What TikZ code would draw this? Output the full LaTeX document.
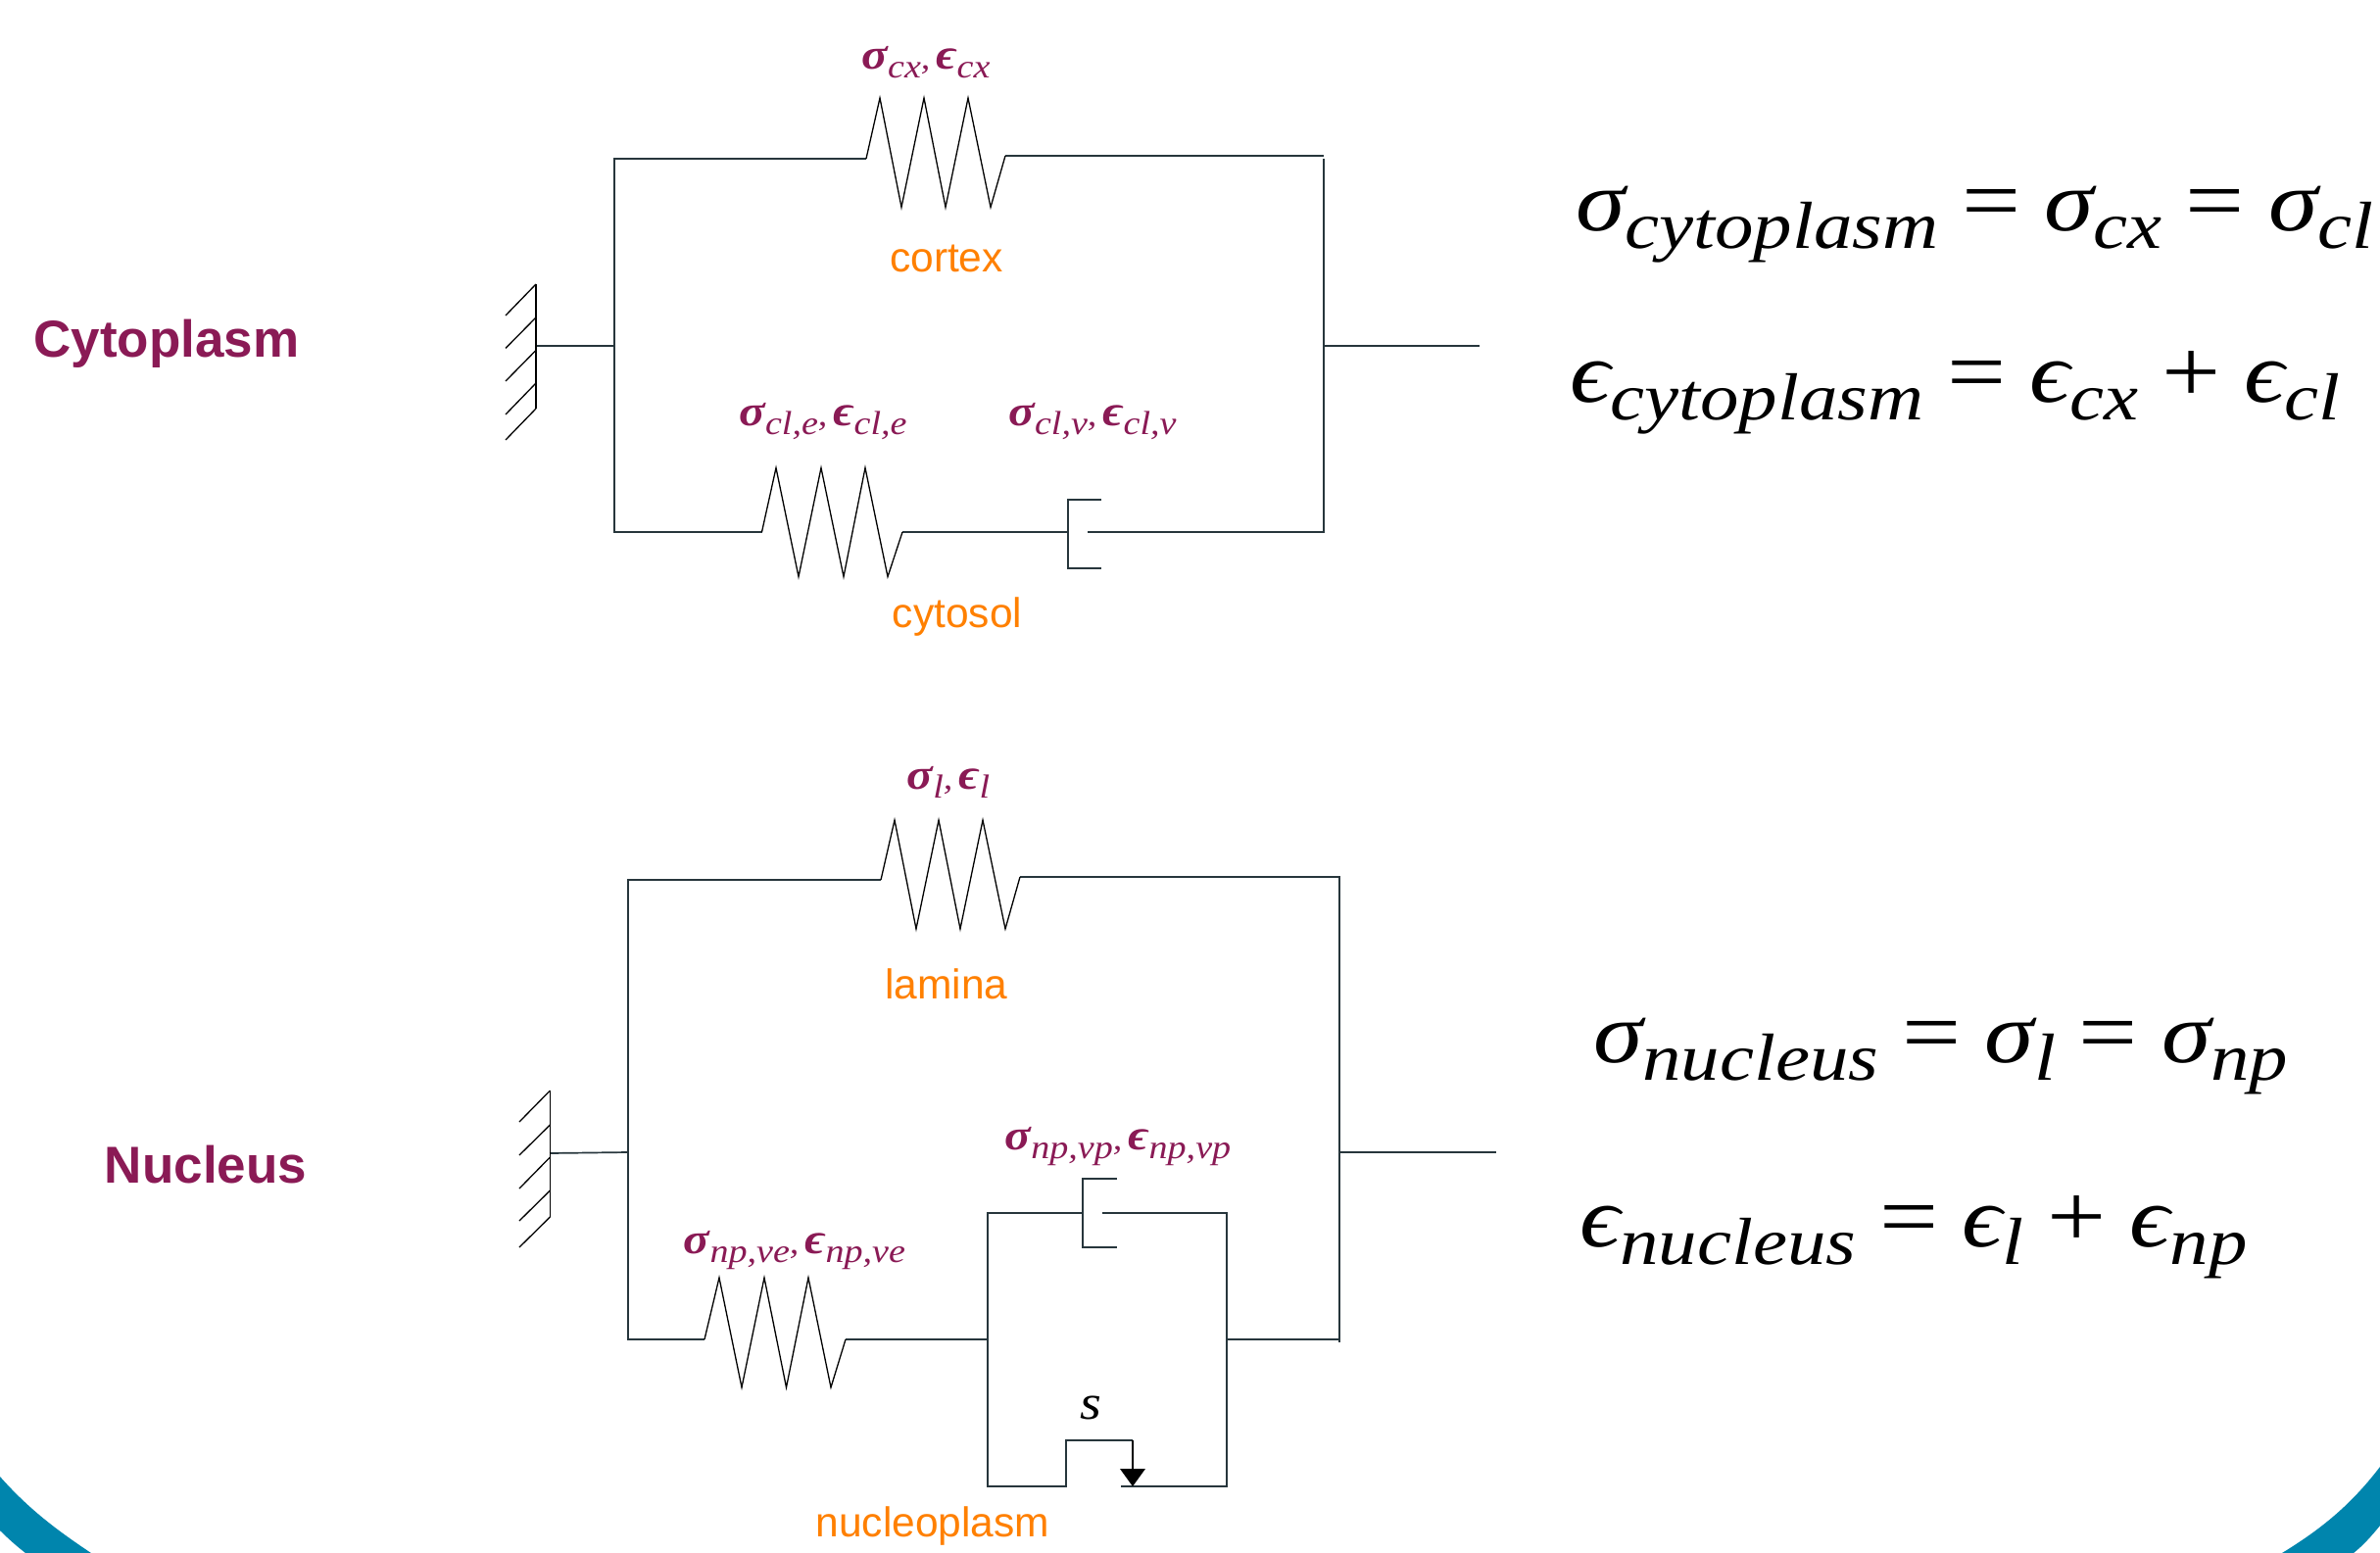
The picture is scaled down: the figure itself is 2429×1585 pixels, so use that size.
\documentclass[tikz,border=0pt]{standalone}
\usepackage{fontspec}
\setmainfont{Liberation Sans}
\newfontfamily\eqf[FakeStretch=1.12]{Liberation Serif}
\newfontfamily\eqg[FakeStretch=1.16]{Liberation Serif}
\newcommand\bigtxt[1]{{\fontsize{88}{96}\selectfont\itshape #1}}
\newcommand\bigsub[1]{\raisebox{-18pt}{\fontsize{68}{80}\selectfont\itshape #1}}
\newcommand\bigop[1]{\hspace{24pt}{\fontsize{92}{96}\selectfont #1}\hspace{24pt}}
\newcommand\labtxt[2]{{\fontsize{44}{50}\selectfont\bfseries\itshape #1}\raisebox{-9pt}{\fontsize{34}{40}\selectfont\itshape #2}}
\newcommand\labsep{{\fontsize{34}{40}\selectfont\itshape ,\hspace{6pt}}}
\definecolor{linec}{HTML}{27363C}
\definecolor{purp}{HTML}{8A1A55}
\definecolor{orng}{HTML}{FF8000}
\definecolor{teal}{HTML}{0085AD}
\tikzset{
  wire/.style={draw=linec,line width=1.7pt},
  thin wire/.style={draw=black,line width=1.3pt,line join=miter},
  orange label/.style={text=orng,font=\fontsize{42.5}{48}\selectfont,inner sep=0pt},
  title label/.style={text=purp,font=\fontsize{53}{60}\selectfont\bfseries,inner sep=0pt},
  purple label/.style={text=purp,font=\eqf,inner sep=0pt},
  equation/.style={text=black,font=\eqg,inner sep=0pt,anchor=base west},
  arc fill/.style={fill=teal,draw=none}
}
\begin{document}
\begin{tikzpicture}[x=1pt,y=-1pt]
\useasboundingbox (0,0) rectangle (2429,1585);
\fill[white] (0,0) rectangle (2429,1585);
% corner arcs
\fill[arc fill] (0,1507) .. controls (30,1541) and (60,1563) .. (93,1585) -- (26,1585) .. controls (17,1578) and (8,1570) .. (0,1562) -- cycle;
\fill[arc fill] (2429,1497) .. controls (2400,1535) and (2370,1560) .. (2329,1585) -- (2402,1585) .. controls (2412,1577) and (2420,1568) .. (2429,1557) -- cycle;

% ---------- Cytoplasm ----------
\coordinate (cTL) at (627,162);
\coordinate (cBL) at (627,543);
\coordinate (cTR) at (1351,159);
\coordinate (cTRv) at (1351,162);
\coordinate (cBR) at (1351,543);
\coordinate (cS1a) at (884,162);
\coordinate (cS1b) at (1026,159);
\coordinate (cS2a) at (777.5,543);
\coordinate (cS2b) at (921,543);
\coordinate (cDa) at (1090,543);
\coordinate (cDb) at (1109.5,543);
\coordinate (cW) at (547,353);
\coordinate (cWL) at (627,353);
\coordinate (cWR) at (1351,353);
\coordinate (cEnd) at (1510,353);
\draw[wire] (cS1a) -- (cTL) -- (cBL) -- (cS2a);
\draw[wire] (cS1b) -- (cTR);
\draw[wire] (cTRv) -- (cBR) -- (cDb);
\draw[wire] (cS2b) -- (cDa);
\draw[wire] (cW) -- (cWL);
\draw[wire] (cWR) -- (cEnd);
\draw[thin wire] (cS1a) -- (898,100) -- (920,211.5) -- (943,100) -- (965,211.5) -- (988,100) -- (1011,211.5) -- (cS1b);
\draw[thin wire] (cS2a) -- (792,477.5) -- (815,588.6) -- (838,477.5) -- (861,588.6) -- (883,477.5) -- (906,588.6) -- (cS2b);
\draw[wire] (1124,510) -- (1090,510) -- (1090,580) -- (1124,580);
\draw[thin wire] (547,290) -- (547,417);
\draw[thin wire] (547,290) -- (516,322) (547,324) -- (516,355.4) (547,357.5) -- (516,389) (547,391) -- (516,423) (547,417) -- (516,449);

% ---------- Nucleus ----------
\coordinate (nTL) at (641,898);
\coordinate (nBL) at (641,1367);
\coordinate (nTR) at (1367,895);
\coordinate (nBR) at (1367,1370);
\coordinate (nS1a) at (899,898);
\coordinate (nS1b) at (1041,895);
\coordinate (nS2a) at (719,1367);
\coordinate (nS2b) at (863,1367);
\coordinate (nBoxL) at (1008,1367);
\coordinate (nBoxR) at (1252,1367);
\coordinate (nBRj) at (1367,1367);
\coordinate (nBTL) at (1008,1238);
\coordinate (nBTR) at (1252,1238);
\coordinate (nBBL) at (1008,1517);
\coordinate (nBBR) at (1252,1517);
\coordinate (nDa) at (1105,1238);
\coordinate (nDb) at (1124.6,1238);
\coordinate (nW) at (561,1177);
\coordinate (nWL) at (641,1176);
\coordinate (nWR) at (1367,1176);
\coordinate (nEnd) at (1527,1176);
\draw[wire] (nS1a) -- (nTL) -- (nBL) -- (nS2a);
\draw[wire] (nS1b) -- (nTR) -- (nBR);
\draw[wire] (nS2b) -- (nBoxL);
\draw[wire] (nBoxR) -- (nBRj);
\draw[wire] (nW) -- (nWL);
\draw[wire] (nWR) -- (nEnd);
\draw[thin wire] (nS1a) -- (913,837) -- (935,948) -- (958,837) -- (980,948) -- (1003,837) -- (1026,948) -- (nS1b);
\draw[thin wire] (nS2a) -- (734,1304) -- (757,1416) -- (780,1304) -- (802.5,1416) -- (825,1304) -- (848,1416) -- (nS2b);
\draw[wire] (nDa) -- (nBTL) -- (nBBL) -- (1088,1517) -- (1088,1470) -- (1156,1470);
\draw[wire] (nDb) -- (nBTR) -- (nBBR) -- (1144,1517);
\draw[wire] (1140,1203) -- (1105,1203) -- (1105,1273) -- (1140,1273);
\draw[thin wire,line width=1.7pt] (1156,1470) -- (1156,1500);
\fill[black] (1143,1499) -- (1169,1499) -- (1156,1517) -- cycle;
\draw[thin wire] (561.4,1113) -- (561.4,1242);
\draw[thin wire] (561.4,1113) -- (530,1145) (561.4,1148) -- (530,1179) (561.4,1181) -- (530,1213) (561.4,1215) -- (530,1246) (561.4,1242) -- (530,1273);

% ---------- Labels ----------
\node[title label] (tcyto) at (170,351) {Cytoplasm};
\node[title label] (tnuc) at (210,1189) {Nucleus};
\node[orange label] (lcortex) at (966,264) {cortex};
\node[orange label] (lcyto) at (977,630) {cytosol};
\node[orange label] (llam) at (966,1004) {lamina};
\node[orange label] (lnp) at (952,1557) {nucleoplasm};
\node[purple label] (p1) at (945,64) {\labtxt{σ}{cx}\labsep\labtxt{ϵ}{cx}};
\node[purple label] (p2) at (840,430) {\labtxt{σ}{cl,e}\labsep\labtxt{ϵ}{cl,e}};
\node[purple label] (p3) at (1115,430) {\labtxt{σ}{cl,v}\labsep\labtxt{ϵ}{cl,v}};
\node[purple label] (p4) at (968,798) {\labtxt{σ}{l}\labsep\labtxt{ϵ}{l}};
\node[purple label] (p5) at (1141,1170) {\labtxt{σ}{np,vp}\labsep\labtxt{ϵ}{np,vp}};
\node[purple label] (p6) at (811,1276) {\labtxt{σ}{np,ve}\labsep\labtxt{ϵ}{np,ve}};
\node[purple label,text=black] (ps) at (1113,1437) {\fontsize{50}{54}\selectfont\itshape s};
% ---------- Equations ----------
\node[equation] (e1) at (1608,235) {\bigtxt{σ}\bigsub{cytoplasm}\bigop{=}\bigtxt{σ}\bigsub{cx}\bigop{=}\bigtxt{σ}\bigsub{cl}};
\node[equation] (e2) at (1602,410) {\bigtxt{ϵ}\bigsub{cytoplasm}\bigop{=}\bigtxt{ϵ}\bigsub{cx}\bigop{+}\bigtxt{ϵ}\bigsub{cl}};
\node[equation] (e3) at (1626,1084) {\bigtxt{σ}\bigsub{nucleus}\bigop{=}\bigtxt{σ}\bigsub{l}\bigop{=}\bigtxt{σ}\bigsub{np}};
\node[equation] (e4) at (1612,1272) {\bigtxt{ϵ}\bigsub{nucleus}\bigop{=}\bigtxt{ϵ}\bigsub{l}\bigop{+}\bigtxt{ϵ}\bigsub{np}};
\end{tikzpicture}
\end{document}
